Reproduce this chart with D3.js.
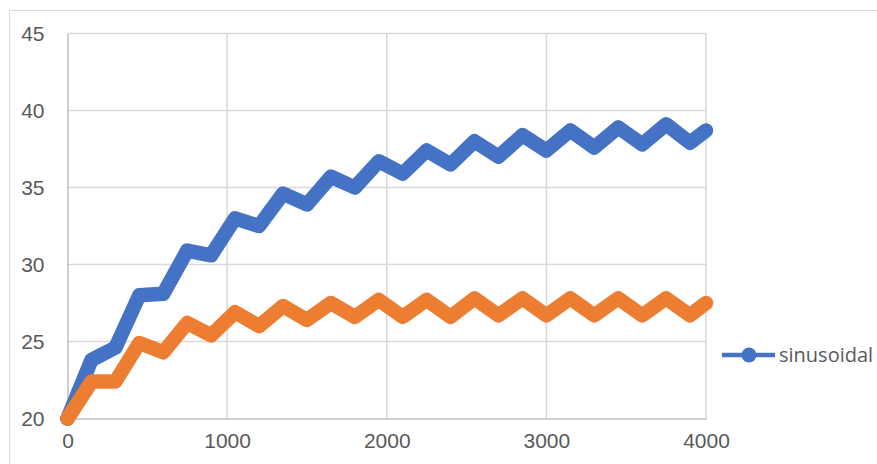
<!DOCTYPE html>
<html lang="en">
<head>
    <meta charset="utf-8">
    <title>sinusoidal</title>
    <script src="https://d3js.org/d3.v7.min.js"></script>
    <style>
        body { margin: 0; background: #fff; }
        svg { display: block; font-family: "Open Sans", sans-serif; }
        .tick text { fill: #595959; font-size: 21px; }
    </style>
</head>
<body>
<svg id="chart"></svg>
<script>
    // data
    var xValues = [0, 150, 300, 450, 600, 750, 900, 1050, 1200, 1350, 1500, 1650, 1800, 1950,
                   2100, 2250, 2400, 2550, 2700, 2850, 3000, 3150, 3300, 3450, 3600, 3750, 3900, 4000];
    var sinusoidal = [20, 23.8, 24.6, 28.0, 28.1, 30.9, 30.6, 33.0, 32.5, 34.6, 33.9, 35.7, 35.0, 36.7,
                      35.9, 37.4, 36.5, 38.0, 37.0, 38.4, 37.4, 38.7, 37.6, 38.9, 37.8, 39.1, 37.9, 38.7];
    var second = [20, 22.4, 22.4, 24.9, 24.3, 26.2, 25.4, 26.9, 26.0, 27.3, 26.4, 27.5, 26.6, 27.7,
                  26.6, 27.7, 26.6, 27.8, 26.7, 27.8, 26.7, 27.8, 26.7, 27.8, 26.7, 27.8, 26.7, 27.5];
    var xTicks = [0, 1000, 2000, 3000, 4000];
    var yTicks = [20, 25, 30, 35, 40, 45];

    var width = 877, height = 464;
    var svg = d3.select('#chart').attr('width', width).attr('height', height);

    // chart frame
    svg.append('rect')
        .attr('x', 9.5).attr('y', 10.5)
        .attr('width', 900).attr('height', 500)
        .attr('fill', 'none').attr('stroke', '#d9d9d9');

    var x = d3.scaleLinear().domain([0, 4000]).range([67.5, 706]);
    var y = d3.scaleLinear().domain([20, 45]).range([418.5, 33.5]);

    // gridlines
    svg.append('g').selectAll('line').data(yTicks.slice(1)).enter().append('line')
        .attr('x1', x(0)).attr('x2', x(4000))
        .attr('y1', function (d) { return y(d); }).attr('y2', function (d) { return y(d); })
        .attr('stroke', '#d9d9d9').attr('stroke-width', 1.5);
    svg.append('g').selectAll('line').data(xTicks.slice(1)).enter().append('line')
        .attr('y1', y(20)).attr('y2', y(45))
        .attr('x1', function (d) { return x(d); }).attr('x2', function (d) { return x(d); })
        .attr('stroke', '#d9d9d9').attr('stroke-width', 1.5);

    // axes
    var fmt = d3.format('d');
    var xAxis = svg.append('g').attr('transform', 'translate(0,' + y(20) + ')')
        .call(d3.axisBottom(x).tickValues(xTicks).tickFormat(fmt).tickSize(0).tickPadding(22));
    var yAxis = svg.append('g').attr('transform', 'translate(' + x(0) + ',0)')
        .call(d3.axisLeft(y).tickValues(yTicks).tickFormat(fmt).tickSize(0).tickPadding(23));
    xAxis.select('.domain').attr('stroke', '#bfbfbf').attr('stroke-width', 1.5);
    yAxis.select('.domain').attr('stroke', '#bfbfbf').attr('stroke-width', 1.5);
    xAxis.selectAll('text').attr('dy', '0.35em');

    var line = d3.line()
        .x(function (d, i) { return x(xValues[i]); })
        .y(function (d) { return y(d); });

    function drawSeries(vals, colour) {
        svg.append('path').datum(vals)
            .attr('d', line)
            .attr('fill', 'none').attr('stroke', colour)
            .attr('stroke-width', 14.5).attr('stroke-linejoin', 'round').attr('stroke-linecap', 'round');
    }
    drawSeries(second, '#ED7D31');
    drawSeries(sinusoidal, '#4472C4');
    // orange sits on top at the start in the picture
    drawSeries(second.slice(0, 2), '#ED7D31');

    // legend
    var lg = svg.append('g').attr('transform', 'translate(722,355)');
    lg.append('line').attr('x1', 0).attr('x2', 53).attr('y1', 0).attr('y2', 0)
        .attr('stroke', '#4472C4').attr('stroke-width', 4.5);
    lg.append('circle').attr('cx', 27).attr('cy', 0).attr('r', 7.5).attr('fill', '#4472C4');
    lg.append('text').attr('x', 57).attr('y', 0).attr('dy', '0.35em')
        .attr('fill', '#595959').attr('font-size', '20px').text('sinusoidal');
</script>
</body>
</html>
